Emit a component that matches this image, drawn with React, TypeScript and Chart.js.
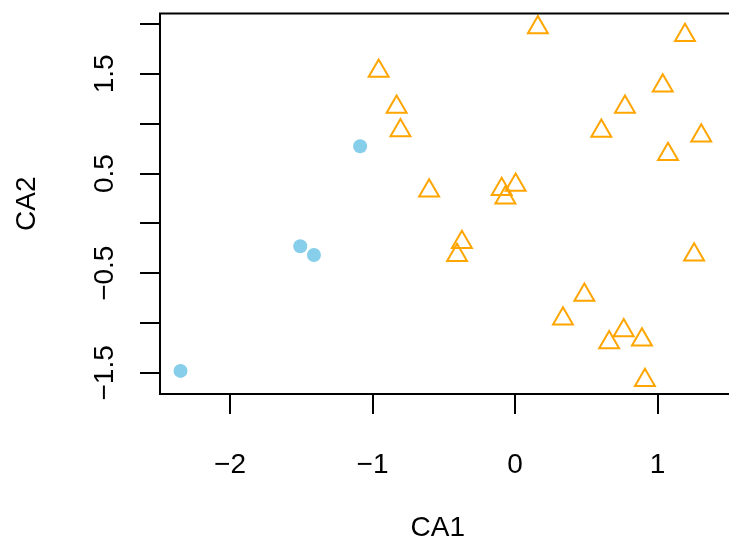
import React, { useEffect, useRef } from 'react';
import { Chart, registerables } from 'chart.js';

Chart.register(...registerables);

// Group 1 (filled sky-blue circles)
const groupAX = [-1.087, -1.507, -1.411, -2.347];
const groupAY = [0.774, -0.230, -0.317, -1.480];

// Group 2 (open orange triangles)
const groupBX = [0.160, 1.192, -0.957, -0.831, 1.036, 0.771, -0.804, 0.605, 1.306, 1.073, -0.603, -0.094, 0.004, -0.068, -0.373, -0.407, 1.256, 0.486, 0.336, 0.762, 0.660, 0.890, 0.911];
const groupBY = [1.965, 1.888, 1.530, 1.167, 1.380, 1.169, 0.933, 0.928, 0.879, 0.694, 0.327, 0.343, 0.386, 0.257, -0.190, -0.320, -0.315, -0.718, -0.956, -1.075, -1.195, -1.168, -1.573];

const xLimits = [-2.491, 1.406];
const yLimits = [-1.712, 2.106];

const yLabelValues = [-1.5, -0.5, 0.5, 1.5];
const yLabelTexts = ['\u22121.5', '\u22120.5', '0.5', '1.5'];

const xTitle = 'CA1';
const yTitle = 'CA2';

const FONT = '"Liberation Sans", Arial, Helvetica, sans-serif';
const FONT_SIZE = 28;

const fmt = (v: number) => (v < 0 ? '\u2212' + String(Math.abs(v)) : String(v));

const boxPlugin = {
  id: 'rbox',
  afterDraw(chart: any) {
    const { ctx, chartArea } = chart;
    const { left, top, bottom } = chartArea;
    const right = chart.width;
    ctx.save();
    ctx.strokeStyle = '#000';
    ctx.lineWidth = 2;
    ctx.beginPath();
    ctx.moveTo(right + 2, top);
    ctx.lineTo(left, top);
    ctx.lineTo(left, bottom);
    ctx.lineTo(right + 2, bottom);
    ctx.stroke();

    // rotated y tick labels (R style, las = 0)
    const ys = chart.scales.y;
    ctx.fillStyle = '#000';
    ctx.font = `${FONT_SIZE}px ${FONT}`;
    ctx.textAlign = 'center';
    ctx.textBaseline = 'alphabetic';
    yLabelValues.forEach((v, i) => {
      const py = ys.getPixelForValue(v);
      ctx.save();
      ctx.translate(113, py);
      ctx.rotate(-Math.PI / 2);
      ctx.fillText(yLabelTexts[i], 0, 0);
      ctx.restore();
    });
    ctx.restore();
  },
};

export default function App() {
  const ref = useRef<HTMLCanvasElement | null>(null);

  useEffect(() => {
    if (!ref.current) return;
    const chart = new Chart(ref.current, {
      type: 'scatter',
      data: {
        datasets: [
          {
            label: 'group1',
            data: groupAX.map((x, i) => ({ x, y: groupAY[i] })),
            pointStyle: 'circle',
            pointRadius: 7,
            pointBackgroundColor: '#87CEEB',
            pointBorderColor: '#87CEEB',
            pointBorderWidth: 0,
          },
          {
            label: 'group2',
            data: groupBX.map((x, i) => ({ x, y: groupBY[i] })),
            pointStyle: 'triangle',
            pointRadius: 11.5,
            pointBackgroundColor: 'rgba(0,0,0,0)',
            pointBorderColor: '#FFA500',
            pointBorderWidth: 2,
          },
        ],
      },
      options: {
        animation: false,
        responsive: true,
        maintainAspectRatio: false,
        devicePixelRatio: 1,
        layout: { padding: { top: 10, left: 0, right: 0, bottom: 0 } },
        plugins: {
          legend: { display: false },
          tooltip: { enabled: false },
        },
        scales: {
          x: {
            type: 'linear',
            min: xLimits[0],
            max: xLimits[1],
            afterFit: (s: any) => {
              s.height = 156;
            },
            border: { display: false },
            grid: {
              drawOnChartArea: false,
              drawTicks: true,
              tickLength: 20,
              color: '#000',
              lineWidth: 2,
            },
            ticks: {
              stepSize: 1,
              includeBounds: false,
              autoSkip: false,
              maxRotation: 0,
              minRotation: 0,
              padding: 34,
              color: '#000',
              font: { family: FONT, size: FONT_SIZE },
              callback: (v: any) => fmt(Number(v)),
            },
            title: {
              display: true,
              text: xTitle,
              color: '#000',
              font: { family: FONT, size: FONT_SIZE },
              padding: { top: 0, bottom: 5 },
            },
          },
          y: {
            type: 'linear',
            min: yLimits[0],
            max: yLimits[1],
            afterFit: (s: any) => {
              s.width = 160;
            },
            border: { display: false },
            grid: {
              drawOnChartArea: false,
              drawTicks: true,
              tickLength: 20,
              color: '#000',
              lineWidth: 2,
            },
            ticks: {
              stepSize: 0.5,
              includeBounds: false,
              autoSkip: false,
              display: false,
            },
            title: {
              display: true,
              text: yTitle,
              color: '#000',
              font: { family: FONT, size: FONT_SIZE },
              padding: { top: 10.5, bottom: 0 },
            },
          },
        },
      },
      plugins: [boxPlugin],
    });
    return () => chart.destroy();
  }, []);

  return (
    <div style={{ position: 'absolute', left: 0, top: 0, width: 729, height: 550, background: '#fff' }}>
      <canvas ref={ref} />
    </div>
  );
}
